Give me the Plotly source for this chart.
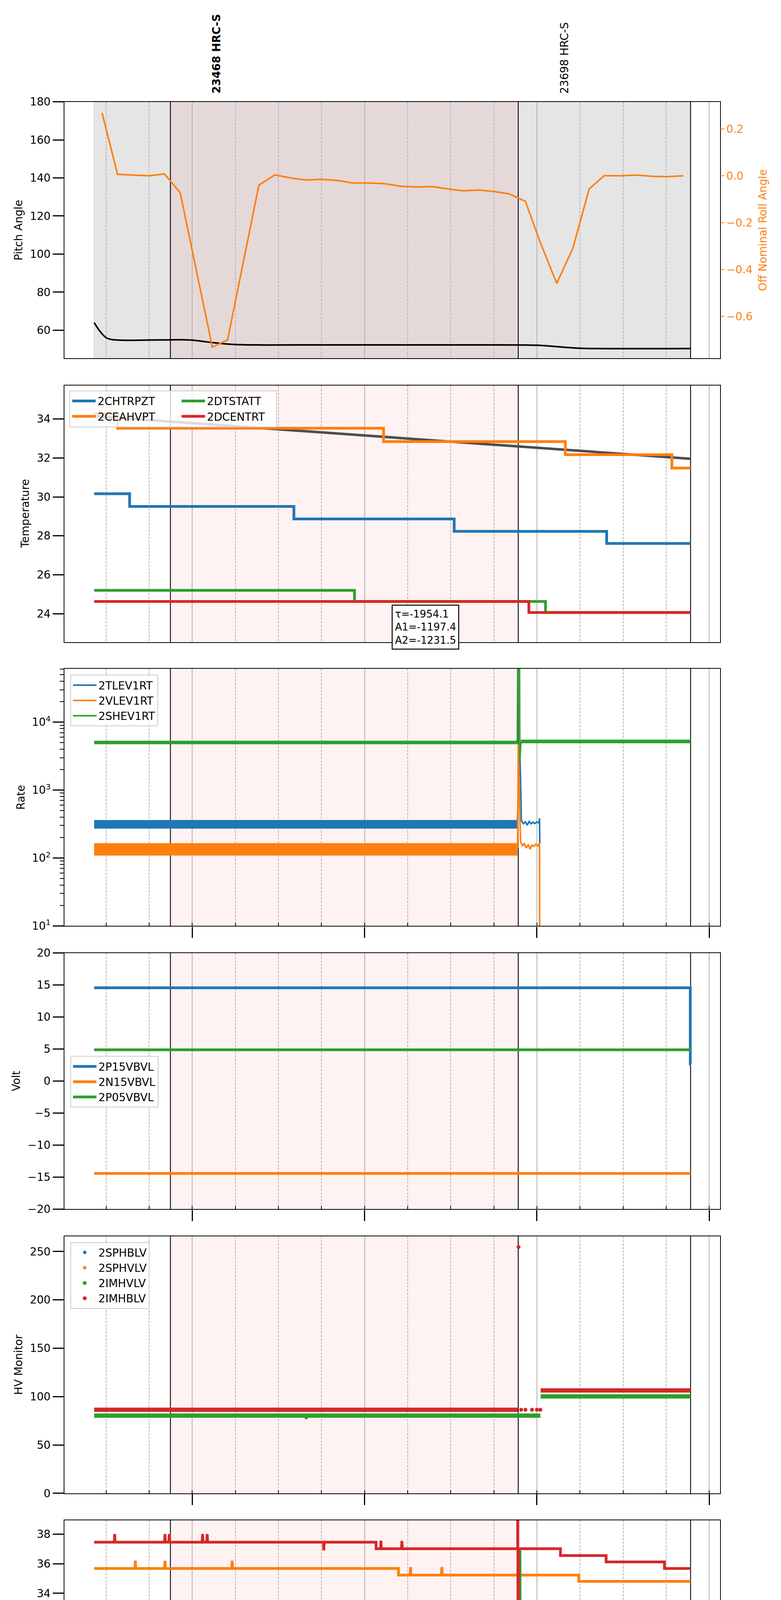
import numpy as np
import pandas as pd
import plotly.graph_objects as go

# times are minutes after 15:00 on 2021-07-23
DAY = pd.Timestamp("2021-07-23 15:00")
FONT = "DejaVu Sans"
BLUE, ORANGE, GREEN, RED = "#1f77b4", "#ff7f0e", "#2ca02c", "#d62728"

T_START, T_END = 25.85, 233.5
obs_start = [52.4, 173.5]
obs_stop = 233.5
obs_label_t = [68.5, 189.5]
obs_labels = ["<b>23468 HRC-S</b>", "23698 HRC-S"]

hour_t = [60, 120, 180, 240]
hour_text = ["16h", "17h", "18h", "19h"]
minor_t = [30, 45, 75, 90, 105, 135, 150, 165, 195, 210, 225]
minor_text = ["30", "45", "15", "30", "45", "15", "30", "45", "15", "30", "45"]

# pitch / roll
pitch_t = [25.85, 28.0, 30.1, 32.5, 55.5, 60.0, 63.0, 67.0, 71.0, 75.0, 80.0, 85.0,
           176.0, 180.0, 185.0, 190.0, 194.0, 198.0, 233.5]
pitch_v = [64.0, 59.2, 56.0, 55.0, 55.0, 54.8, 54.3, 53.5, 52.9, 52.5, 52.3, 52.25,
           52.25, 52.1, 51.6, 51.0, 50.6, 50.4, 50.4]
roll_t = [28.6, 34.0, 45.1, 50.3, 55.8, 67.0, 72.3, 83.2, 88.8, 94.5, 99.7, 104.9,
          110.6, 115.9, 121.4, 126.9, 132.7, 138.4, 143.6, 148.8, 154.3, 159.9, 165.1,
          170.3, 176.0, 181.2, 186.9, 192.5, 198.2, 203.4, 209.0, 214.7, 219.9, 225.4, 231.0]
roll_v = [0.268, 0.006, 0.0, 0.008, -0.072, -0.731, -0.700, -0.040, 0.004, -0.010, -0.018,
          -0.015, -0.020, -0.031, -0.031, -0.034, -0.045, -0.048, -0.046, -0.056, -0.064,
          -0.061, -0.067, -0.077, -0.109, -0.285, -0.459, -0.310, -0.056, 0.0, 0.0, 0.003,
          -0.002, -0.004, 0.0]

# temperature
chtrpzt_lv = [30.16, 29.51, 28.87, 28.23, 27.61]
chtrpzt_ch = [38.2, 95.4, 151.2, 204.3]
ceahvpt_lv = [34.27, 33.53, 32.84, 32.17, 31.48]
ceahvpt_ch = [34.0, 126.6, 189.9, 227.0]
dtstatt_lv = [25.2, 24.63, 24.06]
dtstatt_ch = [116.5, 183.0]
dcentrt_lv = [24.63, 24.06]
dcentrt_ch = [177.2]
fit_t = [25.85, 121.4, 233.5]
fit_v = [34.15, 33.14, 31.96]
fit_text = "τ=-1954.1<br>A1=-1197.4<br>A2=-1231.5"

# rates: noisy bands before the spike, then the read trace
band_t = [25.85, 173.2]
after_t = [174.4, 233.5]
tlev_band = [274, 357]
vlev_band = [110, 163]
shev_band = [4780, 5250]
shev_band_after = [4950, 5450]
tlev_t = [173.2, 174.0, 174.3, 174.6, 175.3, 176.0, 176.6, 177.3, 178.0, 178.7, 179.3,
          180.0, 180.7, 180.9, 181.0]
tlev_v = [320, 4700, 1460, 357, 320, 340, 305, 345, 318, 336, 322, 340, 328, 385, 166]
vlev_t = [173.3, 173.5, 173.8, 174.3, 175.0, 175.6, 176.3, 177.0, 177.6, 178.3, 179.0,
          179.6, 180.3, 180.9, 181.0]
vlev_v = [140, 4700, 1460, 176, 150, 165, 140, 158, 135, 155, 148, 160, 150, 166, 1]
shev_t = [173.2, 173.35, 173.95, 174.05, 174.4]
shev_v = [5000, 80000, 60000, 2600, 5150]

# voltages
p15_lv = [14.55, 2.67]
p15_ch = [233.4]
n15_lv = [-14.43]
p05_lv = [4.87]

# HV monitor
imhblv_seg = [(25.85, 173.4, 86.4), (181.3, 233.5, 106.4)]
imhvlv_seg = [(25.85, 181.2, 80.3), (181.3, 233.5, 100.2)]
imhblv_dot_t = [173.6, 174.5, 176.0, 178.3, 180.0, 181.2]
imhblv_dot_v = [254.6, 86.4, 86.4, 86.4, 86.4, 86.4]
imhvlv_dot_t = [99.7]
imhvlv_dot_v = [78.5]

# detector temps
spinatm_lv = [23.12, 22.41]
spinatm_ch = [221.3]
spinatm_sp = ([174.0], [-20.0])
sphvatm_lv = [35.68, 35.23, 34.81]
sphvatm_ch = [131.8, 194.6]
sphvatm_sp = ([40.2, 50.5, 73.9, 136.0, 146.9], [36.21, 36.2, 36.2, 35.77, 35.77])
iminatm_lv = [24.63, 23.87]
iminatm_ch = [151.7]
iminatm_sp = ([144.5, 174.1], [23.8, 36.9])
imhvatm_lv = [37.45, 37.01, 36.55, 36.12, 35.68]
imhvatm_ch = [124.0, 188.2, 204.1, 224.4]
imhvatm_sp = ([33.0, 50.5, 52.0, 63.6, 65.2, 105.8, 125.7, 133.0, 173.35, 173.45],
              [38.0, 38.0, 38.0, 38.0, 38.0, 36.9, 37.55, 37.54, 60.0, -20.0])

# FEA temps
fhtrmzt_lv = [27.61, 27.0, 26.40, 25.80, 25.2]
fhtrmzt_ch = [71.5, 112.0, 153.0, 198.1]
fradpyt_lv = [22.92, 22.36, 21.82, 21.26, 20.73, 20.19, 19.67]
fradpyt_ch = [32.3, 50.8, 78.0, 108.2, 141.9, 181.7]
fepratm_lv = [28.57, 27.76, 26.96]
fepratm_ch = [98.8, 163.0]
fepratm_sp = ([173.95, 174.05], [40.0, 24.9])
fe00atm_lv = [26.66, 26.30, 25.97, 25.61, 25.28, 24.94, 24.60, 24.27]
fe00atm_ch = [33.0, 66.6, 97.5, 126.6, 157.0, 188.7, 226.0]
fe00atm_sp = ([26.9, 29.1, 35.9, 37.8, 45.4, 76.7, 77.7, 82.9, 101.6, 103.5, 104.9, 106.8,
               108.7, 116.4, 119.0, 122.4, 132.0, 136.2, 138.4, 147.8, 151.2, 153.6, 170.3, 173.8],
              [26.28, 27.79, 25.58, 26.72, 25.93, 27.42, 25.56, 27.07, 26.72, 25.22, 25.22, 24.89,
               26.72, 26.37, 24.89, 25.22, 24.56, 26.01, 25.66, 24.56, 25.66, 25.66, 25.33, 10.0])


def tm(m):
    return DAY + pd.to_timedelta(np.asarray(m, dtype=float), unit="min")


def ts(m):
    return DAY + pd.Timedelta(minutes=m)


def steps(levels, changes=(), spikes=((), ())):
    pts = [(T_START, 0, levels[0])]
    for i, c in enumerate(changes):
        pts.append((c, 1, levels[i]))
        pts.append((c, 2, levels[i + 1]))
    pts.append((T_END, 3, levels[-1]))
    for t, v in zip(*spikes):
        base = levels[sum(c <= t for c in changes)]
        pts += [(t - 0.15, 1, base), (t, 1, v), (t + 0.15, 1, base)]
    pts.sort(key=lambda p: (p[0], p[1]))
    return tm([p[0] for p in pts]), [p[2] for p in pts]


# ---- geometry, in pixels of the 2000x5400 page (the page body adds an 8px margin)
OFF = 8
W, H = 2000 - 2 * OFF, 5400 - 2 * OFF


def fx(p):
    return (p - OFF) / W


def fy(p):
    return 1 - (p - OFF) / H


XDOM = [fx(165.2), fx(1843.8)]
tops = [246.0, 976.5, 1706.1, 2438.4, 3168.3, 3899.4, 4629.1]
bots = [907.0, 1637.8, 2368.9, 3098.4, 3830.3, 4559.6, 5291.3]
XR = [ts(15.53), ts(243.75)]

fig = go.Figure()


def line(k, x, y, name, color, width, legend=None, **kw):
    fig.add_trace(go.Scatter(x=x, y=y, name=name, mode="lines",
                             line=dict(color=color, width=width),
                             xaxis="x" if k == 1 else f"x{k}",
                             yaxis="y" if k == 1 else f"y{k}",
                             showlegend=legend is not None,
                             legend=legend or "legend", legendgroup=name, **kw))


# panel 1
line(1, tm(pitch_t), pitch_v, "pitch", "black", 4, line_shape="spline")
fig.add_trace(go.Scatter(x=tm(roll_t), y=roll_v, mode="lines", line=dict(color=ORANGE, width=4),
                         xaxis="x", yaxis="y8", showlegend=False))

# panel 2
line(2, tm(fit_t), fit_v, "fit", "#4d4d4d", 6.5)
line(2, *steps(chtrpzt_lv, chtrpzt_ch), "2CHTRPZT", BLUE, 7, "legend")
line(2, *steps(ceahvpt_lv, ceahvpt_ch), "2CEAHVPT", ORANGE, 7, "legend")
line(2, *steps(dtstatt_lv, dtstatt_ch), "2DTSTATT", GREEN, 7, "legend2")
line(2, *steps(dcentrt_lv, dcentrt_ch), "2DCENTRT", RED, 7, "legend2")

# panel 3
for band, tt, col in [(tlev_band, band_t, BLUE), (vlev_band, band_t, ORANGE),
                      (shev_band, band_t, GREEN), (shev_band_after, after_t, GREEN)]:
    line(3, tm(tt), [band[0]] * 2, "band", col, 2)
    line(3, tm(tt), [band[1]] * 2, "band", col, 2, fill="tonexty", fillcolor=col)
line(3, tm(tlev_t), tlev_v, "2TLEV1RT", BLUE, 4, "legend3")
line(3, tm(vlev_t), vlev_v, "2VLEV1RT", ORANGE, 4, "legend3")
line(3, tm(shev_t), shev_v, "2SHEV1RT", GREEN, 4, "legend3")

# panel 4
line(4, *steps(p15_lv, p15_ch), "2P15VBVL", BLUE, 7, "legend4")
line(4, *steps(n15_lv), "2N15VBVL", ORANGE, 7, "legend4")
line(4, *steps(p05_lv), "2P05VBVL", GREEN, 7, "legend4")

# panel 5: dense samples drawn as a band of dots, sparse samples as markers
for name, col in [("2SPHBLV", BLUE), ("2SPHVLV", ORANGE)]:
    fig.add_trace(go.Scatter(x=[None], y=[None], mode="markers", name=name,
                             marker=dict(color=col, size=9), xaxis="x5", yaxis="y5",
                             legend="legend5", legendgroup=name))
for name, col, segs, dt, dv in [("2IMHVLV", GREEN, imhvlv_seg, imhvlv_dot_t, imhvlv_dot_v),
                                ("2IMHBLV", RED, imhblv_seg, imhblv_dot_t, imhblv_dot_v)]:
    for a, b, v in segs:
        fig.add_trace(go.Scatter(x=tm([a, b]), y=[v, v], mode="lines",
                                 line=dict(color=col, width=11), xaxis="x5", yaxis="y5",
                                 showlegend=False))
    fig.add_trace(go.Scatter(x=tm(dt), y=dv, mode="markers", name=name,
                             marker=dict(color=col, size=10), xaxis="x5", yaxis="y5",
                             legend="legend5", legendgroup=name))

# panel 6
line(6, *steps(spinatm_lv, spinatm_ch, spinatm_sp), "2SPINATM", BLUE, 7, "legend6")
line(6, *steps(sphvatm_lv, sphvatm_ch, sphvatm_sp), "2SPHVATM", ORANGE, 7, "legend6")
line(6, *steps(iminatm_lv, iminatm_ch, iminatm_sp), "2IMINATM", GREEN, 7, "legend6")
line(6, *steps(imhvatm_lv, imhvatm_ch, imhvatm_sp), "2IMHVATM", RED, 7, "legend6")

# panel 7
line(7, *steps(fhtrmzt_lv, fhtrmzt_ch), "2FHTRMZT", BLUE, 7, "legend7")
line(7, *steps(fradpyt_lv, fradpyt_ch), "2FRADPYT", ORANGE, 7, "legend7")
line(7, *steps(fepratm_lv, fepratm_ch, fepratm_sp), "2FEPRATM", GREEN, 7, "legend7")
line(7, *steps(fe00atm_lv, fe00atm_ch, fe00atm_sp), "2FE00ATM", RED, 7, "legend7")
# empty trace so the minute-label axis x8 gets drawn over panel 7
fig.add_trace(go.Scatter(x=[None], y=[None], xaxis="x8", yaxis="y7", showlegend=False,
                         hoverinfo="skip"))

# ---- axes
y_ranges = [[45.2, 180], [22.54, 35.73], [1, 4.787], [-20, 20], [0, 265.7],
            [21.64, 38.94], [18.68, 30.08]]
y_ticks = [[60, 80, 100, 120, 140, 160, 180], [24, 26, 28, 30, 32, 34],
           [10, 100, 1000, 10000], [-20, -15, -10, -5, 0, 5, 10, 15, 20],
           [0, 50, 100, 150, 200, 250], [22, 24, 26, 28, 30, 32, 34, 36, 38],
           [20, 22, 24, 26, 28, 30]]
y_titles = ["Pitch Angle", "Temperature", "Rate", "Volt", "HV Monitor", "Detector Temp", "FEA Temp"]
y_title_px = [47, 64, 53, 41, 48, 65, 65]

tickfont = dict(family=FONT, size=27.8, color="black")
layout = dict(width=W, height=H, margin=dict(l=0, r=0, t=0, b=0),
              plot_bgcolor="white", paper_bgcolor="white", font=dict(family=FONT, size=27.8))

for k in range(1, 8):
    sfx = "" if k == 1 else str(k)
    ticks_on = k >= 3
    layout["xaxis" + sfx] = dict(
        domain=XDOM, range=XR, type="date", anchor="y" + sfx,
        showline=True, linecolor="black", linewidth=2.2, mirror=True,
        showgrid=True, gridcolor="#b0b0b0", gridwidth=1.8, zeroline=False,
        tickvals=tm(hour_t), ticktext=hour_text, showticklabels=(k == 7),
        tickfont=tickfont, ticks="outside" if ticks_on else "",
        ticklen=28, tickwidth=2.7, tickcolor="black",
        minor=dict(dtick=15 * 60 * 1000, tick0=DAY, showgrid=True, gridcolor="#b4b4b4",
                   griddash="6px,3px", gridwidth=1.8, ticks="inside" if ticks_on else "",
                   ticklen=8, tickwidth=2, tickcolor="black"),
    )
    yd = dict(domain=[fy(bots[k - 1]), fy(tops[k - 1])], range=y_ranges[k - 1],
              anchor="x" + sfx, showline=True, linecolor="black", linewidth=2.2, mirror=True,
              showgrid=False, zeroline=False, ticks="outside", ticklen=28, tickwidth=2.7,
              tickcolor="black", tickfont=tickfont, tickvals=y_ticks[k - 1])
    if k == 3:
        yd.update(type="log", ticktext=["10<sup>1</sup>", "10<sup>2</sup>", "10<sup>3</sup>", "10<sup>4</sup>"],
                  minor=dict(ticks="outside", ticklen=10, tickwidth=1.8, tickcolor="black", dtick="D1"))
    layout["yaxis" + sfx] = yd

layout["xaxis7"]["title"] = dict(text="2021-07-23 (204)", font=dict(family=FONT, size=33, color="black"),
                                 standoff=5)
layout["xaxis8"] = dict(overlaying="x7", anchor="y7", range=XR, type="date", showgrid=False,
                        showline=False, zeroline=False, tickvals=tm(minor_t), ticktext=minor_text,
                        ticks="", tickfont=dict(family=FONT, size=19, color="black"))
layout["yaxis8"] = dict(overlaying="y", anchor="x", side="right", range=[-0.779, 0.3156],
                        tickvals=[-0.6, -0.4, -0.2, 0.0, 0.2], tickformat=".1f",
                        ticks="outside", ticklen=9.7, tickwidth=2, tickcolor=ORANGE,
                        tickfont=dict(family=FONT, size=27.8, color=ORANGE),
                        showgrid=False, zeroline=False, showline=False)

# legends
leg_top = [992, 992, 1722, 2704, 3183, 4143, 5103]
leg_x = [180, 460, 180, 180, 180, 180, 180]
for i, name in enumerate(["legend", "legend2", "legend3", "legend4", "legend5", "legend6", "legend7"]):
    d = dict(x=fx(leg_x[i]), y=fy(leg_top[i]), xanchor="left", yanchor="top",
             font=dict(family=FONT, size=27.8, color="black"), traceorder="grouped",
             tracegroupgap=0, itemwidth=60, bgcolor="rgba(255,255,255,0.8)",
             bordercolor="#cccccc", borderwidth=2)
    if i < 2:
        d.update(bgcolor="rgba(0,0,0,0)", borderwidth=0)
    layout[name] = d

shapes = []
annotations = []
for k in range(1, 8):
    sfx = "" if k == 1 else str(k)
    xr, yr = "x" + sfx, "y" + sfx + " domain"
    if k == 1:
        shapes.append(dict(type="rect", xref=xr, yref=yr, x0=ts(T_START), x1=ts(obs_stop),
                           y0=0, y1=1, fillcolor="#e5e5e5", line=dict(color="#cfcfcf", width=1.5),
                           layer="below"))
        pink = "#e5d8d8"
    else:
        pink = "#fff2f2"
    shapes.append(dict(type="rect", xref=xr, yref=yr, x0=ts(obs_start[0]), x1=ts(obs_start[1]),
                       y0=0, y1=1, fillcolor=pink, line=dict(width=0), layer="below"))
    for t in obs_start + [obs_stop]:
        shapes.append(dict(type="line", xref=xr, yref=yr, x0=ts(t), x1=ts(t), y0=0, y1=1,
                           line=dict(color="black", width=2.2), layer="below"))
    annotations.append(dict(text=y_titles[k - 1], xref="paper", yref="paper",
                            x=fx(y_title_px[k - 1]), y=fy((tops[k - 1] + bots[k - 1]) / 2),
                            textangle=-90, showarrow=False, xanchor="center", yanchor="middle",
                            font=dict(family=FONT, size=27.8, color="black")))

# box behind the two-column temperature legend
shapes.append(dict(type="rect", xref="paper", yref="paper", x0=fx(178.6), x1=fx(707.9),
                   y0=fy(1083.7), y1=fy(990.8), fillcolor="rgba(255,255,255,0.8)",
                   line=dict(color="#cccccc", width=2), layer="above"))

annotations.append(dict(text="Off Nominal Roll Angle", xref="paper", yref="paper", x=fx(1953),
                        y=fy((tops[0] + bots[0]) / 2), textangle=-90, showarrow=False,
                        xanchor="center", yanchor="middle",
                        font=dict(family=FONT, size=27.8, color=ORANGE)))
for t, s in zip(obs_label_t, obs_labels):
    annotations.append(dict(text=s, xref="x", yref="paper", x=ts(t), y=fy(227),
                            textangle=-90, showarrow=False, xanchor="center", yanchor="bottom",
                            font=dict(family=FONT, size=27.8, color="black")))
annotations.append(dict(text=fit_text, xref="x2", yref="paper", x=ts(141.2), y=fy(1541.8),
                        xanchor="center", yanchor="top", align="left", showarrow=False,
                        bgcolor="white", bordercolor="black", borderwidth=2.5, borderpad=6,
                        font=dict(family=FONT, size=26, color="black")))

layout["shapes"] = shapes
layout["annotations"] = annotations
fig.update_layout(**layout)
fig.write_html("out.html")
